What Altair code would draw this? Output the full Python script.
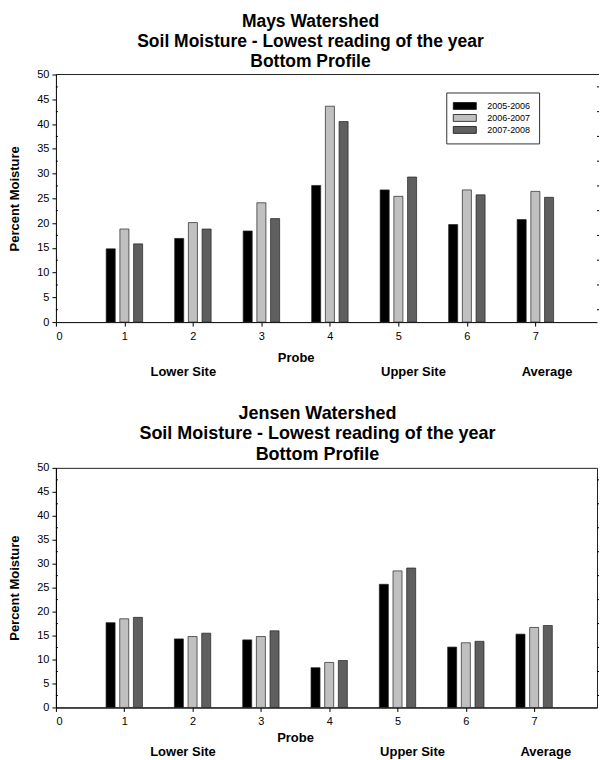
import altair as alt
import pandas as pd

# ---- data ----
probes = [1, 2, 3, 4, 5, 6, 7]
seasons = ["2005-2006", "2006-2007", "2007-2008"]
season_colors = ["#000000", "#c0c0c0", "#5f5f5f"]

mays_0506 = [14.8, 16.9, 18.4, 27.6, 26.7, 19.7, 20.7]
mays_0607 = [18.8, 20.1, 24.1, 43.6, 25.4, 26.7, 26.4]
mays_0708 = [15.8, 18.8, 20.9, 40.5, 29.3, 25.7, 25.2]

jensen_0506 = [17.7, 14.3, 14.1, 8.3, 25.7, 12.6, 15.3]
jensen_0607 = [18.5, 14.8, 14.8, 9.4, 28.5, 13.5, 16.7]
jensen_0708 = [18.8, 15.5, 16.0, 9.8, 29.1, 13.8, 17.1]

x_ticks = [0, 1, 2, 3, 4, 5, 6, 7]
y_ticks = [0, 5, 10, 15, 20, 25, 30, 35, 40, 45, 50]
minor_ticks = [2.5, 7.5, 12.5, 17.5, 22.5, 27.5, 32.5, 37.5, 42.5, 47.5]
site_names = ["Lower Site", "Upper Site", "Average"]
site_pos = [1.86, 5.22, 7.17]

FONT = "Liberation Sans"


def panel(title_lines, series, W, H, xmax, title_dx, title_size, title_lh,
          probe_y, site_y, leg_x, leg_y, framed, ytitle_pad):
    rows = []
    for i, p in enumerate(probes):
        for s, vals in enumerate(series):
            rows.append({"probe": p, "season": seasons[s], "idx": s,
                         "moisture": vals[i]})
    df = pd.DataFrame(rows)
    xscale = alt.Scale(domain=[0, xmax], nice=False, zero=False)
    yscale = alt.Scale(domain=[0, 50], nice=False)
    x_axis = alt.Axis(values=x_ticks, format="d", title="Probe",
                      titleX=3.5 / xmax * W, titleY=probe_y,
                      titleBaseline="middle", titleAlign="center",
                      grid=False, tickSize=4, labelPadding=4)
    y_axis = alt.Axis(values=y_ticks, title="Percent Moisture",
                      grid=False, tickSize=4, labelPadding=3,
                      titlePadding=ytitle_pad)

    bars = alt.Chart(df).transform_calculate(
        xs="datum.probe + (datum.idx - 1) * 0.2 - 0.066",
        xe="datum.probe + (datum.idx - 1) * 0.2 + 0.066",
    ).mark_bar(stroke="#222222", strokeWidth=0.7).encode(
        x=alt.X("xs:Q", scale=xscale, axis=x_axis),
        x2="xe:Q",
        y=alt.Y("moisture:Q", scale=yscale, stack=None, axis=y_axis),
        y2=alt.datum(0),
        color=alt.Color("season:N",
                        scale=alt.Scale(domain=seasons, range=season_colors),
                        legend=alt.Legend(
                            title=None, orient="none", legendX=leg_x,
                            legendY=leg_y,
                            symbolType="M-1.4,-0.75H3.6V0.75H-1.4Z",
                            symbolSize=85,
                            symbolStrokeColor="#111111", symbolStrokeWidth=0.8,
                            labelFont=FONT, labelFontSize=9, labelColor="black",
                            labelOffset=22, padding=8, rowPadding=1,
                            strokeColor="#333333", fillColor="white")),
    )

    mdf = pd.DataFrame({"v": minor_ticks})
    minor_left = alt.Chart(mdf).mark_rule(color="black").encode(
        y=alt.Y("v:Q", scale=yscale, axis=y_axis),
        x=alt.value(0), x2=alt.value(2))
    minor_right = alt.Chart(mdf).mark_rule(color="black").encode(
        y=alt.Y("v:Q", scale=yscale, axis=y_axis),
        x=alt.value(W), x2=alt.value(W + 2))

    sdf = pd.DataFrame({"site": site_names, "pos": site_pos})
    sites = alt.Chart(sdf).mark_text(
        font=FONT, fontSize=13, fontWeight="bold", color="black",
        baseline="middle").encode(
        x=alt.X("pos:Q", scale=xscale, axis=x_axis),
        y=alt.value(site_y), text="site:N")

    layers = [bars, minor_left, minor_right, sites]
    if not framed:
        top_line = alt.Chart(pd.DataFrame({"a": [0]})).mark_rule(
            color="#222222", strokeWidth=1).encode(
            x=alt.value(0), x2=alt.value(W + 2), y=alt.value(0))
        layers.append(top_line)

    ch = alt.layer(*layers).properties(
        width=W, height=H,
        title=alt.TitleParams(text=title_lines, font=FONT, fontSize=title_size,
                              fontWeight="bold", lineHeight=title_lh,
                              anchor="middle", dx=title_dx, offset=-2,
                              color="black"),
        view=alt.ViewBackground(stroke="#222222" if framed else "transparent",
                                strokeWidth=1),
    )
    return ch


top = panel(["Mays Watershed", "Soil Moisture - Lowest reading of the year",
             "Bottom Profile"],
            [mays_0506, mays_0607, mays_0708],
            W=542, H=248, xmax=7.9, title_dx=-16, title_size=17.5,
            title_lh=20, probe_y=35, site_y=298,
            leg_x=391, leg_y=18, framed=False, ytitle_pad=15)

bottom = panel(["Jensen Watershed",
                "Soil Moisture - Lowest reading of the year", "Bottom Profile"],
               [jensen_0506, jensen_0607, jensen_0708],
               W=542, H=240, xmax=7.92, title_dx=-9, title_size=18,
               title_lh=20.5, probe_y=30, site_y=285,
               leg_x=417, leg_y=19, framed=True, ytitle_pad=15)

chart = alt.vconcat(top, bottom, spacing=24).properties(
    padding={"left": 0, "top": 4, "right": 0, "bottom": 0}
).configure(background="white").configure_axis(
    labelFont=FONT, labelFontSize=11, labelColor="black",
    titleFont=FONT, titleFontSize=13, titleFontWeight="bold",
    titleColor="black", domainColor="black", tickColor="black",
    domainWidth=1, tickWidth=1,
)

chart.save("out.html", embed_options={"renderer": "svg", "actions": False})
